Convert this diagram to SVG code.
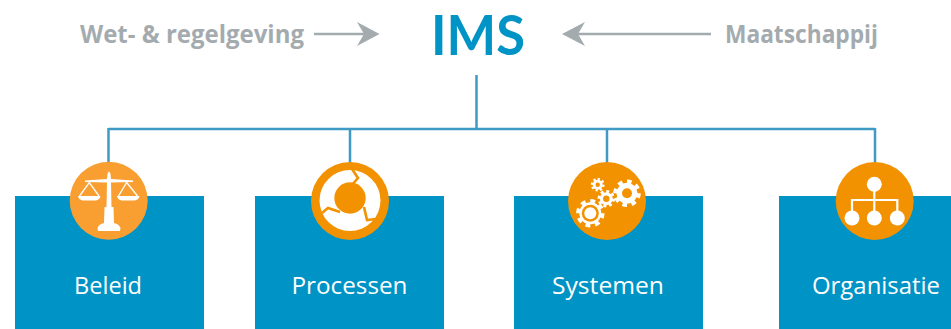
<svg xmlns="http://www.w3.org/2000/svg" width="951" height="329" viewBox="0 0 951 329">
<style>
.t{font-family:"Open Sans","Liberation Sans",sans-serif}
.g{font-weight:700;font-size:25px;fill:#a4abaf}
.l{font-size:24px;fill:#fff;text-anchor:middle}
.box{fill:#0093c5}
.c{fill:none;stroke:#3f9bc4;stroke-width:2.5}
.a{fill:none;stroke:#a4abaf;stroke-width:2.5}
.h{fill:#a4abaf}
.w{fill:#fff}
.o{fill:#f39200}
.gap{fill:none;stroke:#f39200;stroke-width:2.6;stroke-linejoin:miter}
.tooth{fill:none;stroke:#fff;stroke-dasharray:1 1}
.ln{fill:none;stroke:#fff;stroke-width:2.2}
</style>
<g id="connectors">
<path class="c" d="M476.500 75V129M108.500 129H875M108.500 128V165M350 129V165M607 129V165M875 128V165"/>
<path class="a" d="M314 34H366"/>
<path class="h" d="M379.500 34L357 22L364 34L357 46Z"/>
<path class="a" d="M711 34H575"/>
<path class="h" d="M562 34L585 22L578 34L585 46Z"/>
</g>
<g id="ims"><text x="431" y="55" font-family="Lato,'Liberation Sans',sans-serif" font-size="55" font-weight="700" fill="#0093c5" textLength="94" lengthAdjust="spacingAndGlyphs">IMS</text></g>
<g id="wet"><text class="t g" x="80" y="43" textLength="224" lengthAdjust="spacingAndGlyphs">Wet- &amp; regelgeving</text></g>
<g id="maatschappij"><text class="t g" x="725" y="43" textLength="153" lengthAdjust="spacingAndGlyphs">Maatschappij</text></g>
<g id="beleid">
<rect class="box" x="15" y="196" width="189" height="133"/>
<circle cx="108.700" cy="200.700" r="39" fill="#f99f32"/>
<path class="w" d="M107.500 174Q109 169 110.500 174L111 179L133 180.500V182L111 182.500L111.500 207H113.500L114 223Q119 224 120.500 228L120 231H98L97.500 228Q99 224 104 223L104.500 207H106.500L107 182.500L85 182V180.500L107 179Z"/>
<path class="ln" style="stroke-width:1.300" d="M79.500 196L89.300 182.500L99 196M118.500 196L126.700 182.500L137.500 196"/>
<path class="w" d="M78 196H100.500Q100 199.500 96 200.500H82.500Q78.500 199.500 78 196ZM117 196H139.500Q139 199.500 135 200.500H121.500Q117.500 199.500 117 196Z"/>
</g>
<g id="processen">
<rect class="box" x="255" y="196" width="189" height="133"/>
<circle class="o" cx="350" cy="201" r="39"/>
<circle class="w" cx="350" cy="200.500" r="30.500"/>
<circle class="o" cx="350" cy="198" r="15.700"/>
<path class="gap" d="M352 169L358 178L351 186"/>
<path class="gap" d="M322 213L328 208L340 212"/>
<path class="gap" d="M376 219L367 220L364 207"/>
</g>
<g id="systemen">
<rect class="box" x="514" y="196" width="189" height="133"/>
<circle class="o" cx="607" cy="201" r="39"/>
<circle class="w" cx="590.300" cy="213.300" r="11"/>
<circle class="tooth" cx="590.300" cy="213.300" r="12" pathLength="16" stroke-width="4.500"/>
<circle class="o" cx="590.300" cy="213.300" r="8.500"/>
<circle class="w" cx="590.300" cy="213.300" r="6"/>
<circle class="w" cx="627" cy="193.300" r="10.500"/>
<circle class="tooth" cx="627" cy="193.300" r="11.500" pathLength="16" stroke-width="4.500"/>
<circle class="o" cx="627" cy="193.300" r="5"/>
<circle class="w" cx="606.300" cy="198.700" r="6.500"/>
<circle class="tooth" cx="606.300" cy="198.700" r="7" pathLength="16" stroke-width="3.500"/>
<circle class="o" cx="606.300" cy="198.700" r="3.200"/>
<circle class="w" cx="597.700" cy="184.700" r="5"/>
<circle class="tooth" cx="597.700" cy="184.700" r="5.500" pathLength="16" stroke-width="2.800"/>
<circle class="o" cx="597.700" cy="184.700" r="2.200"/>
</g>
<g id="organisatie">
<rect class="box" x="779" y="196" width="172" height="133"/>
<circle class="o" cx="874.700" cy="201" r="39"/>
<path class="ln" d="M874.300 184V218M852 218V200H897.300V218"/>
<circle class="w" cx="874.300" cy="184.300" r="7.500"/>
<circle class="w" cx="852" cy="218" r="7.500"/>
<circle class="w" cx="874.300" cy="218" r="7.500"/>
<circle class="w" cx="897.300" cy="218" r="7.500"/>
</g>
<text class="t l" x="108" y="294" textLength="68" lengthAdjust="spacingAndGlyphs">Beleid</text>
<text class="t l" x="349.500" y="294" textLength="116" lengthAdjust="spacingAndGlyphs">Processen</text>
<text class="t l" x="608" y="294" textLength="112" lengthAdjust="spacingAndGlyphs">Systemen</text>
<text class="t l" x="876" y="294" textLength="128" lengthAdjust="spacingAndGlyphs">Organisatie</text>
</svg>
